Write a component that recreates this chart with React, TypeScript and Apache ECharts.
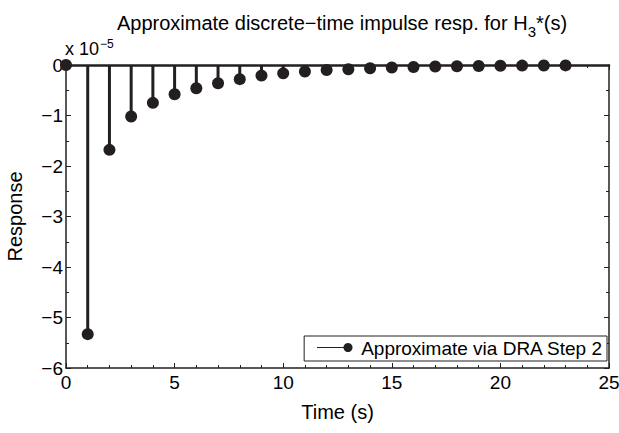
import React, { useEffect, useRef } from "react";
import * as echarts from "echarts";

const times = [0, 1, 2, 3, 4, 5, 6, 7, 8, 9, 10, 11, 12, 13, 14, 15, 16, 17, 18, 19, 20, 21, 22, 23];
// response values in units of 1e-5
const response = [0, -5.33, -1.68, -1.02, -0.75, -0.58, -0.46, -0.36, -0.28, -0.21, -0.165, -0.13, -0.1, -0.085, -0.065, -0.05, -0.04, -0.03, -0.025, -0.02, -0.015, -0.012, -0.01, -0.008];
const seriesName = "Approximate via DRA Step 2";
const xTicks = [0, 5, 10, 15, 20, 25];
const yTicks = [-6, -5, -4, -3, -2, -1, 0];

const INK = "#231f20";
const FONT = "Liberation Sans";

export default function App() {
  const ref = useRef<HTMLDivElement>(null);
  useEffect(() => {
    if (!ref.current) return;
    const chart = echarts.init(ref.current, null, { renderer: "svg" });
    const pts = times.map((t, i) => [t, response[i]]);
    const minus = (v: number) => String(v).replace("-", "\u2212");
    chart.setOption({
      animation: false,
      backgroundColor: "#ffffff",
      textStyle: { fontFamily: FONT, color: "#000" },
      title: {
        text: "Approximate discrete\u2212time impulse resp. for H{sub|3}*(s)",
        left: 337,
        top: 2,
        textAlign: "center",
        textStyle: {
          fontFamily: FONT,
          fontSize: 20,
          fontWeight: "normal",
          color: "#000",
          rich: {
            sub: { fontFamily: FONT, fontSize: 15, color: "#000", verticalAlign: "bottom", padding: [17, 0, 0, 0] },
          },
        },
      },
      grid: { left: 66, right: 10, top: 65, bottom: 65, containLabel: false, outerBoundsMode: "none" },
      legend: {
        data: [seriesName],
        right: 12,
        bottom: 72,
        orient: "horizontal",
        borderColor: INK,
        borderWidth: 1,
        borderRadius: 0,
        backgroundColor: "#fff",
        padding: [3, 4, 3, 10],
        itemWidth: 40,
        itemHeight: 9,
        itemGap: 0,
        icon: "rect",
        itemStyle: { color: "rgba(0,0,0,0)", borderWidth: 0 },
        textStyle: { fontFamily: FONT, fontSize: 19, color: "#000", padding: [0, 0, 0, 2] },
      },
      xAxis: [
        {
          type: "value",
          min: 0,
          max: 25,
          interval: 5,
          name: "Time (s)",
          nameLocation: "middle",
          nameGap: 34,
          nameTextStyle: { fontFamily: FONT, fontSize: 20, color: "#000" },
          axisLine: { show: true, onZero: false, lineStyle: { color: INK, width: 1.5 } },
          axisTick: { show: true, inside: true, length: 5, lineStyle: { color: INK } },
          minorTick: { show: true, splitNumber: 5, length: 3, lineStyle: { color: INK } },
          axisLabel: { fontFamily: FONT, fontSize: 19, color: "#000", margin: 5, formatter: (v: number) => (xTicks.includes(v) ? minus(v) : "") },
          splitLine: { show: false },
        },
        {
          type: "value",
          position: "top",
          min: 0,
          max: 25,
          interval: 5,
          axisLine: { show: true, onZero: false, lineStyle: { color: INK, width: 2.5 } },
          axisTick: { show: true, inside: true, length: 5, lineStyle: { color: INK } },
          minorTick: { show: true, splitNumber: 5, length: 3, lineStyle: { color: INK } },
          axisLabel: { show: false },
          splitLine: { show: false },
        },
      ],
      yAxis: [
        {
          type: "value",
          min: -6,
          max: 0,
          interval: 1,
          name: "Response",
          nameLocation: "middle",
          nameGap: 41,
          nameTextStyle: { fontFamily: FONT, fontSize: 20, color: "#000" },
          axisLine: { show: true, onZero: false, lineStyle: { color: INK, width: 1.5 } },
          axisTick: { show: true, inside: true, length: 5, lineStyle: { color: INK } },
          minorTick: { show: true, splitNumber: 2, length: 3, lineStyle: { color: INK } },
          axisLabel: { fontFamily: FONT, fontSize: 19, color: "#000", margin: 3, formatter: (v: number) => (yTicks.includes(v) ? minus(v) : "") },
          splitLine: { show: false },
        },
        {
          type: "value",
          position: "right",
          min: -6,
          max: 0,
          interval: 1,
          axisLine: { show: true, onZero: false, lineStyle: { color: INK, width: 1.5 } },
          axisTick: { show: true, inside: true, length: 5, lineStyle: { color: INK } },
          minorTick: { show: true, splitNumber: 2, length: 3, lineStyle: { color: INK } },
          axisLabel: { show: false },
          splitLine: { show: false },
        },
      ],
      graphic: [
        {
          type: "text",
          left: 65,
          top: 38,
          z: 10,
          style: {
            text: "x 10{sup|\u22125}",
            fontFamily: FONT,
            fontSize: 18,
            fill: "#000",
            rich: { sup: { fontFamily: FONT, fontSize: 12, fill: "#000", verticalAlign: "top", padding: [0, 0, 10, 1] } },
          },
        },
        {
          type: "line",
          z: 100,
          shape: { x1: 317, y1: 347.5, x2: 347, y2: 347.5 },
          style: { stroke: INK, lineWidth: 1 },
        },
        {
          type: "circle",
          z: 100,
          shape: { cx: 348, cy: 347.5, r: 4.5 },
          style: { fill: INK },
        },
      ],
      series: [
        {
          type: "custom",
          name: "stems",
          xAxisIndex: 0,
          yAxisIndex: 0,
          data: pts,
          silent: true,
          renderItem: (params: any, api: any) => {
            const x = api.value(0);
            const y = api.value(1);
            const p0 = api.coord([x, 0]);
            const p1 = api.coord([x, y]);
            return {
              type: "line",
              shape: { x1: p0[0], y1: p0[1], x2: p1[0], y2: p1[1] },
              style: { stroke: INK, lineWidth: 3 },
            };
          },
          z: 2,
        },
        {
          type: "scatter",
          name: seriesName,
          xAxisIndex: 0,
          yAxisIndex: 0,
          data: pts,
          symbol: "circle",
          symbolSize: 12,
          itemStyle: { color: INK, opacity: 1 },
          z: 3,
        },
      ],
    });
    return () => chart.dispose();
  }, []);
  return <div ref={ref} style={{ position: "fixed", left: 0, top: 0, width: 619, height: 433 }} />;
}
